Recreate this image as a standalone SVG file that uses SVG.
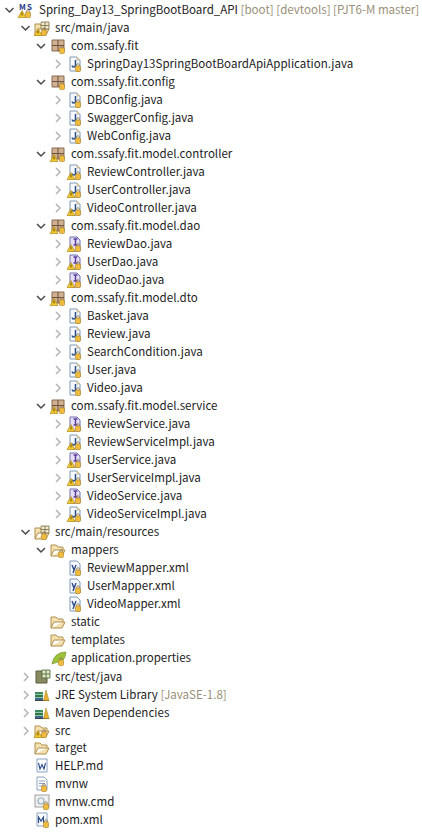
<svg xmlns="http://www.w3.org/2000/svg" width="422" height="839" viewBox="0 0 422 839">
<style>
text{font-family:"Noto Sans CJK KR","Noto Sans",sans-serif;font-size:11.55px;fill:#1c1c1c}
.d{fill:#9a8f78}
.cd{fill:none;stroke:#4a4a4a;stroke-width:1.5}
.cr{fill:none;stroke:#b4b4b4;stroke-width:1.5}
.ms{font-size:8px;font-weight:700;fill:#2a3a8a}
</style>
<defs>
<g id="chd"><path class="cd" d="M-4 -2L0 2L4 -2"/></g>
<g id="chr"><path class="cr" d="M-2 -4L2 0L-2 4"/></g>
<g id="lock"><rect x="0.500" y="1" width="5" height="5.500" rx="1" fill="#f0bc40" stroke="#b08020" stroke-width=".6"/><path d="M1.700 1V0A1.300 1.300 0 0 1 4.300 0V1" fill="none" stroke="#8a7a50" stroke-width=".8"/></g>
<g id="warn"><path d="M-8 6.500L-4 -0.500L0 6.500Z" fill="#f4c828" stroke="#a88010" stroke-width=".6"/><path d="M-4 1.500V4.500" stroke="#403010" stroke-width=".8"/></g>
<g id="java"><path d="M-5 -7H2L5 -4V7H-5Z" fill="#f7f8fb" stroke="#7f98b8"/><path d="M2 -7V-4H5" fill="#efe4c0" stroke="#b8a880" stroke-width=".7"/><path d="M0.500 -4V1Q0.500 3 -1.300 3Q-2.800 3 -2.800 1.500" fill="none" stroke="#27508c" stroke-width="1.500"/><use href="#lock" x="0" y="1"/></g>
<g id="javaw"><use href="#java"/><use href="#warn" x="0" y="1"/></g>
<g id="iface"><path d="M-5 -7H2L5 -4V7H-5Z" fill="#e8e0f4" stroke="#6f6fb5"/><path d="M0.500 -5V1M-1.500 -5H2.500M-1.500 1H2.500" fill="none" stroke="#5a3ca0" stroke-width="1.500"/><use href="#lock" x="0" y="1"/><use href="#warn" x="0" y="1"/></g>
<g id="pkg"><path d="M-6 -6H6V5H-6Z" fill="#d0b090" stroke="#8a6a50"/><path d="M-6 -0.500H6M0 -6V5" stroke="#6a5040"/><use href="#lock" x="1" y="1"/></g>
<g id="pkgw"><use href="#pkg"/><use href="#warn" x="0" y="1"/></g>
<g id="fold"><path d="M-7 6V-5H-2L0 -3H5V0H-4L-7 6H4L7 0H5" fill="#f5e0b0" stroke="#b0904e"/></g>
<g id="src"><use href="#fold"/><path d="M-1 -7H7V0H-1Z M-1 -3.500H7M3 -7V0" fill="#f0e8d0" stroke="#7a6a3a" stroke-width=".8"/></g>
<g id="xml"><path d="M-5 -7H2L5 -4V7H-5Z" fill="#f7f8fb" stroke="#7f98b8"/><path d="M-3 -3L-1 2M1 -3L-2 5" fill="none" stroke="#2a4a8a" stroke-width="1.400"/><use href="#lock" x="0" y="1"/></g>
<g id="lib"><path d="M-7 5.500H7" stroke="#404040"/><path d="M-7 -3H1V-0.500H-7Z" fill="#3a8a5a"/><path d="M-7 0H1V2.500H-7Z" fill="#2a7a4a"/><path d="M-7 3H1V5H-7Z" fill="#3a6a8a"/><path d="M1.500 5.500L4 -5L7 5.500Z" fill="#e8b030" stroke="#a08020" stroke-width=".5"/></g>
</defs>
<rect width="422" height="839" fill="#ffffff"/>
<g id="connectors"></g>

<g id="n0"><use href="#chd" x="9.500" y="10"/><text class="ms" x="19" y="10">M</text><text class="ms" x="27" y="10">S</text><use href="#warn" x="26" y="11"/><use href="#lock" x="25" y="11"/><text x="39" y="14">Spring_Day13_SpringBootBoard_API <tspan class="d">[boot] [devtools] [PJT6-M master]</tspan></text></g>
<g id="n1"><use href="#chd" x="25.500" y="28"/><use href="#src" x="42" y="29"/><use href="#warn" x="42" y="29"/><use href="#lock" x="41" y="29"/><text x="55" y="32">src/main/java</text></g>
<g id="n2"><use href="#chd" x="41" y="46"/><use href="#pkg" x="58" y="46"/><text x="71" y="50">com.ssafy.fit</text></g>
<g id="n3"><use href="#chr" x="58" y="64"/><use href="#java" x="75" y="64"/><text x="87" y="68">SpringDay13SpringBootBoardApiApplication.java</text></g>
<g id="n4"><use href="#chd" x="41" y="82"/><use href="#pkg" x="58" y="82"/><text x="71" y="86">com.ssafy.fit.config</text></g>
<g id="n5"><use href="#chr" x="58" y="100"/><use href="#java" x="75" y="100"/><text x="87" y="104">DBConfig.java</text></g>
<g id="n6"><use href="#chr" x="58" y="118"/><use href="#java" x="75" y="118"/><text x="87" y="122">SwaggerConfig.java</text></g>
<g id="n7"><use href="#chr" x="58" y="136"/><use href="#java" x="75" y="136"/><text x="87" y="140">WebConfig.java</text></g>
<g id="n8"><use href="#chd" x="41" y="154"/><use href="#pkgw" x="58" y="154"/><text x="71" y="158">com.ssafy.fit.model.controller</text></g>
<g id="n9"><use href="#chr" x="58" y="172"/><use href="#javaw" x="75" y="172"/><text x="87" y="176">ReviewController.java</text></g>
<g id="n10"><use href="#chr" x="58" y="190"/><use href="#javaw" x="75" y="190"/><text x="87" y="194">UserController.java</text></g>
<g id="n11"><use href="#chr" x="58" y="208"/><use href="#javaw" x="75" y="208"/><text x="87" y="212">VideoController.java</text></g>
<g id="n12"><use href="#chd" x="41" y="226"/><use href="#pkgw" x="58" y="226"/><text x="71" y="230">com.ssafy.fit.model.dao</text></g>
<g id="n13"><use href="#chr" x="58" y="244"/><use href="#iface" x="75" y="244"/><text x="87" y="248">ReviewDao.java</text></g>
<g id="n14"><use href="#chr" x="58" y="262"/><use href="#iface" x="75" y="262"/><text x="87" y="266">UserDao.java</text></g>
<g id="n15"><use href="#chr" x="58" y="280"/><use href="#iface" x="75" y="280"/><text x="87" y="284">VideoDao.java</text></g>
<g id="n16"><use href="#chd" x="41" y="298"/><use href="#pkgw" x="58" y="298"/><text x="71" y="302">com.ssafy.fit.model.dto</text></g>
<g id="n17"><use href="#chr" x="58" y="316"/><use href="#java" x="75" y="316"/><text x="87" y="320">Basket.java</text></g>
<g id="n18"><use href="#chr" x="58" y="334"/><use href="#java" x="75" y="334"/><text x="87" y="338">Review.java</text></g>
<g id="n19"><use href="#chr" x="58" y="352"/><use href="#java" x="75" y="352"/><text x="87" y="356">SearchCondition.java</text></g>
<g id="n20"><use href="#chr" x="58" y="370"/><use href="#java" x="75" y="370"/><text x="87" y="374">User.java</text></g>
<g id="n21"><use href="#chr" x="58" y="388"/><use href="#java" x="75" y="388"/><text x="87" y="392">Video.java</text></g>
<g id="n22"><use href="#chd" x="41" y="406"/><use href="#pkgw" x="58" y="406"/><text x="71" y="410">com.ssafy.fit.model.service</text></g>
<g id="n23"><use href="#chr" x="58" y="424"/><use href="#iface" x="75" y="424"/><text x="87" y="428">ReviewService.java</text></g>
<g id="n24"><use href="#chr" x="58" y="442"/><use href="#javaw" x="75" y="442"/><text x="87" y="446">ReviewServiceImpl.java</text></g>
<g id="n25"><use href="#chr" x="58" y="460"/><use href="#iface" x="75" y="460"/><text x="87" y="464">UserService.java</text></g>
<g id="n26"><use href="#chr" x="58" y="478"/><use href="#javaw" x="75" y="478"/><text x="87" y="482">UserServiceImpl.java</text></g>
<g id="n27"><use href="#chr" x="58" y="496"/><use href="#iface" x="75" y="496"/><text x="87" y="500">VideoService.java</text></g>
<g id="n28"><use href="#chr" x="58" y="514"/><use href="#javaw" x="75" y="514"/><text x="87" y="518">VideoServiceImpl.java</text></g>
<g id="n29"><use href="#chd" x="25.500" y="532"/><use href="#src" x="42" y="533"/><use href="#lock" x="41" y="533"/><text x="55" y="536">src/main/resources</text></g>
<g id="n30"><use href="#chd" x="41" y="550"/><use href="#fold" x="58" y="550"/><use href="#lock" x="58" y="551"/><text x="71" y="554">mappers</text></g>
<g id="n31"><use href="#xml" x="75" y="568"/><text x="87" y="572">ReviewMapper.xml</text></g>
<g id="n32"><use href="#xml" x="75" y="586"/><text x="87" y="590">UserMapper.xml</text></g>
<g id="n33"><use href="#xml" x="75" y="604"/><text x="87" y="608">VideoMapper.xml</text></g>
<g id="n34"><use href="#fold" x="58" y="622"/><text x="71" y="626">static</text></g>
<g id="n35"><use href="#fold" x="58" y="640"/><text x="71" y="644">templates</text></g>
<g id="n36"><path d="M52 664Q54 652 66 652Q65 662 58 662Z" fill="#9cc23c" stroke="#6a8a20" stroke-width=".6"/><use href="#lock" x="58" y="659"/><text x="71" y="662">application.properties</text></g>
<g id="n37"><use href="#chr" x="26" y="677"/><path d="M36 671H47V683H36Z" fill="#8a8a60" stroke="#5a5a40"/><path d="M42 670H50V678H42ZM42 674H50M46 670V678" fill="#e8e2c4" stroke="#3a6a3a" stroke-width=".8"/><text x="55" y="681">src/test/java</text></g>
<g id="n38"><use href="#chr" x="26" y="695"/><use href="#lib" x="42" y="695"/><text x="55" y="699">JRE System Library <tspan class="d">[JavaSE-1.8]</tspan></text></g>
<g id="n39"><use href="#chr" x="26" y="713"/><use href="#lib" x="42" y="713"/><text x="55" y="717">Maven Dependencies</text></g>
<g id="n40"><use href="#chr" x="26" y="731"/><use href="#fold" x="42" y="731"/><use href="#warn" x="42" y="731"/><use href="#lock" x="41" y="731"/><text x="55" y="735">src</text></g>
<g id="n41"><use href="#fold" x="42" y="748"/><text x="55" y="752">target</text></g>
<g id="n42"><path d="M37 759H47V772H37Z" fill="#fff" stroke="#8aa0c0"/><path d="M38.500 763L40 769L42 764.500L44 769L45.500 763" fill="none" stroke="#2a4a8a" stroke-width="1.100"/><text x="55" y="770">HELP.md</text></g>
<g id="n43"><path d="M37 777H44L47 780V790H37Z" fill="#fff" stroke="#8aa0c0"/><path d="M39 781H45M39 783.500H45M39 786H45" stroke="#8aa0c0"/><use href="#lock" x="41" y="785"/><text x="55" y="788">mvnw</text></g>
<g id="n44"><rect x="35" y="795" width="14" height="12" fill="#f0f0f0" stroke="#a0a0a0"/><circle cx="41" cy="801" r="3" fill="none" stroke="#9ab0c0" stroke-width="1.200"/><use href="#lock" x="43" y="803"/><text x="55" y="806">mvnw.cmd</text></g>
<g id="n45"><path d="M37 813H47V826H37Z" fill="#fff" stroke="#8aa0c0"/><path d="M38.500 823V817L41 821L43.500 817V823" fill="none" stroke="#2a4a8a" stroke-width="1.200"/><use href="#lock" x="43" y="821"/><text x="55" y="824">pom.xml</text></g>
</svg>
